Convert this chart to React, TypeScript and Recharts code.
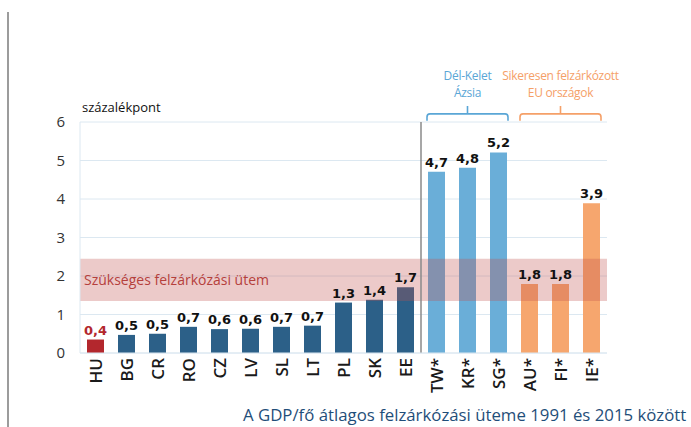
import React from "react";
import {
  BarChart,
  Bar,
  Cell,
  XAxis,
  YAxis,
  CartesianGrid,
  LabelList,
  ReferenceArea,
  ReferenceLine,
} from "recharts";

const CATEGORIES = ["HU", "BG", "CR", "RO", "CZ", "LV", "SL", "LT", "PL", "SK", "EE", "TW*", "KR*", "SG*", "AU*", "FI*", "IE*"];
const VALUES = [0.35, 0.47, 0.5, 0.68, 0.62, 0.63, 0.68, 0.71, 1.31, 1.38, 1.71, 4.71, 4.81, 5.21, 1.79, 1.79, 3.89];
const GROUPS = ["hu", "cee", "cee", "cee", "cee", "cee", "cee", "cee", "cee", "cee", "cee", "asia", "asia", "asia", "eu", "eu", "eu"];
const Y_TICKS = [0, 1, 2, 3, 4, 5, 6];
const TARGET_BAND = [1.35, 2.45];
const TARGET_LABEL = "Szükséges felzárkózási ütem";
const ASIA_LABEL = ["Dél-Kelet", "Ázsia"];
const EU_LABEL = ["Sikeresen felzárkózott", "EU országok"];

const BAR_COLORS: Record<string, string> = {
  hu: "#b3272d",
  cee: "#2c6088",
  asia: "#6aaed8",
  eu: "#f6a66e",
};
const LABEL_COLORS: Record<string, string> = {
  hu: "#b3272d",
  cee: "#111",
  asia: "#111",
  eu: "#111",
};

const data = CATEGORIES.map((name, i) => ({ name, value: VALUES[i], group: GROUPS[i] }));

const fmt = (v: number) => (Math.round(v * 10) / 10).toFixed(1).replace(".", ",");

function XTick(props: any) {
  const { x, y, payload } = props;
  const ty = y - 3;
  return (
    <text
      x={x}
      y={ty}
      transform={`rotate(-90, ${x}, ${ty})`}
      textAnchor="end"
      dy="0.36em"
      fontSize={17}
      fontWeight={600}
      fontFamily="Open Sans, sans-serif"
      fill="#1a1a1a"
    >
      {payload.value}
    </text>
  );
}

function ValueLabel(props: any) {
  const { x, y, width, index } = props;
  return (
    <text
      x={x + width / 2}
      y={y - 5}
      textAnchor="middle"
      fontSize={13}
      fontWeight="bold"
      fontFamily="DejaVu Sans, sans-serif"
      fill={LABEL_COLORS[GROUPS[index]]}
    >
      {fmt(VALUES[index])}
    </text>
  );
}

const bracket = (color: string, lines: string[]) => (props: any) => {
  const { x, y, width, height } = props;
  const l = x + 6;
  const r = x + width - 6;
  const top = y;
  const bottom = y + height;
  const cx = (l + r) / 2;
  return (
    <g>
      <path
        d={`M${l},${bottom} V${top + 3} Q${l},${top} ${l + 3},${top} H${r - 3} Q${r},${top} ${r},${top + 3} V${bottom} M${cx},${top} V${top - 8}`}
        fill="none"
        stroke={color}
        strokeWidth={1.6}
      />
      {lines.map((t, i) => (
        <text
          key={t}
          x={cx}
          y={top - 34 + i * 17}
          textAnchor="middle"
          fontSize={12}
          letterSpacing={-0.3}
          fontFamily="Open Sans, sans-serif"
          fill={color}
        >
          {t}
        </text>
      ))}
    </g>
  );
};

export default function App() {
  return (
    <div style={{ position: "absolute", left: 0, top: 0, width: 691, height: 427, background: "#fff" }}>
      <div style={{ position: "absolute", left: 7, top: 12, width: 2, height: 415, background: "#9c9c9c" }} />
      <div
        style={{
          position: "absolute",
          left: 82,
          top: 98,
          fontSize: 13,
          fontFamily: "Open Sans, sans-serif",
          color: "#111",
        }}
      >
        százalékpont
      </div>
      <BarChart
        width={691}
        height={427}
        data={data}
        margin={{ top: 122, right: 84, bottom: 0, left: 0 }}
      >
        <CartesianGrid vertical={false} stroke="#dce8f1" />
        <XAxis
          dataKey="name"
          interval={0}
          tick={<XTick />}
          tickLine={false}
          axisLine={{ stroke: "#dce8f1" }}
          height={74}
        />
        <YAxis
          domain={[0, 6]}
          ticks={Y_TICKS}
          width={80}
          tickLine={false}
          tickMargin={9}
          axisLine={{ stroke: "#dce8f1" }}
          tick={{ fontSize: 15, fill: "#333", fontFamily: "Open Sans, sans-serif" }}
        />
        <Bar dataKey="value" barSize={17} isAnimationActive={false}>
          {data.map((d) => (
            <Cell key={d.name} fill={BAR_COLORS[d.group]} />
          ))}
          <LabelList dataKey="value" content={<ValueLabel />} />
        </Bar>
        <ReferenceArea
          y1={TARGET_BAND[0]}
          y2={TARGET_BAND[1]}
          fill="#c0504d"
          fillOpacity={0.3}
          stroke="none"
          {...({ zIndex: 350 } as any)}
          label={{
            value: TARGET_LABEL,
            position: "insideLeft",
            offset: 4,
            fill: "#b5403c",
            fontSize: 14,
            fontFamily: "Open Sans, sans-serif",
          }}
        />
        <ReferenceLine x="EE" position="end" stroke="#8a8a8a" strokeWidth={1.5} />
        <ReferenceArea
          x1="TW*"
          x2="SG*"
          y1={6.03}
          y2={6.21}
          ifOverflow="visible"
          shape={bracket("#5aa6d6", ASIA_LABEL)}
        />
        <ReferenceArea
          x1="AU*"
          x2="IE*"
          y1={6.03}
          y2={6.21}
          ifOverflow="visible"
          shape={bracket("#f5a068", EU_LABEL)}
        />
      </BarChart>
      <div
        style={{
          position: "absolute",
          left: 243,
          top: 403,
          fontSize: 16.8,
          fontFamily: "Open Sans, sans-serif",
          color: "#1f4e79",
          whiteSpace: "nowrap",
        }}
      >
        A GDP/fő átlagos felzárkózási üteme 1991 és 2015 között
      </div>
    </div>
  );
}
